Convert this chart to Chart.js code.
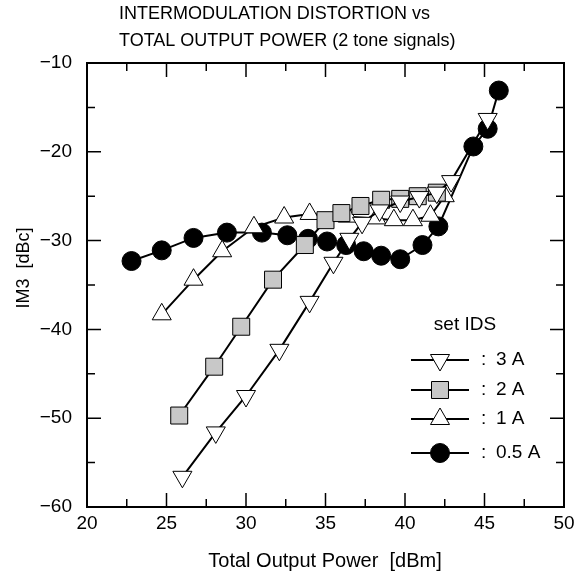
<!DOCTYPE html>
<html>
<head>
<meta charset="utf-8">
<script src="https://cdn.jsdelivr.net/npm/chart.js@4/dist/chart.umd.min.js"></script>
<style>
  html, body { margin: 0; padding: 0; background: #fff; }
  #wrap { width: 584px; height: 583px; }
</style>
</head>
<body>
<div id="wrap"><canvas id="imdChart" width="584" height="583"></canvas></div>
<script>
// data
const seriesLabels = [': 3 A', ': 2 A', ': 1 A', ': 0.5 A'];

const a3X = [26.0, 28.1, 30.0, 32.1, 34.0, 35.5, 36.5, 37.3, 38.4, 39.7, 40.9, 42.0, 42.9, 45.2];
const a3Y = [-56.6, -51.6, -47.5, -42.3, -36.9, -32.5, -29.8, -28.0, -26.6, -25.6, -25.1, -24.6, -23.3, -16.3];

const a2X = [25.8, 28.0, 29.7, 31.7, 33.7, 35.0, 36.0, 37.2, 38.5, 39.7, 40.8, 42.0];
const a2Y = [-49.7, -44.2, -39.7, -34.4, -30.5, -27.7, -26.9, -26.1, -25.4, -25.3, -25.0, -24.6];

const a1X = [24.7, 26.7, 28.5, 30.5, 32.4, 34.0, 36.4, 38.2, 39.3, 40.5, 41.6, 42.5];
const a1Y = [-38.3, -34.4, -31.2, -28.5, -27.4, -27.0, -27.3, -27.5, -27.7, -27.7, -27.2, -25.0];

const a05X = [22.8, 24.7, 26.7, 28.8, 31.0, 32.6, 33.9, 35.1, 36.3, 37.4, 38.5, 39.7, 41.1, 42.1, 44.3, 45.2, 45.9];
const a05Y = [-32.3, -31.1, -29.7, -29.1, -29.1, -29.4, -29.8, -30.1, -30.5, -31.2, -31.7, -32.1, -30.5, -28.4, -19.4, -17.4, -13.1];

const xTicks = [20, 25, 30, 35, 40, 45, 50];
const xMinorTicks = [22.5, 27.5, 32.5, 37.5, 42.5, 47.5];
const yTicks = [-60, -50, -40, -30, -20, -10];
const yMinorTicks = [-55, -45, -35, -25, -15];

const FONT = '"Liberation Sans", Arial, sans-serif';

function pts(xs, ys) {
    return xs.map((x, i) => ({ x: x, y: ys[i] }));
}

const markerStyles = [
    { pointStyle: 'triangle', rotation: 180, radius: 11, fill: '#ffffff' },
    { pointStyle: 'rect', rotation: 0, radius: 12, fill: '#c8c8c8' },
    { pointStyle: 'triangle', rotation: 0, radius: 11, fill: '#ffffff' },
    { pointStyle: 'circle', rotation: 0, radius: 9.5, fill: '#000000' }
];

const seriesData = [pts(a3X, a3Y), pts(a2X, a2Y), pts(a1X, a1Y), pts(a05X, a05Y)];

// draw order: 0.5A at the back, 3A on top
const datasets = seriesData.map((d, i) => ({
    label: seriesLabels[i],
    data: d,
    showLine: true,
    borderColor: '#000',
    borderWidth: 2,
    pointStyle: markerStyles[i].pointStyle,
    rotation: markerStyles[i].rotation,
    pointRadius: markerStyles[i].radius,
    pointBackgroundColor: markerStyles[i].fill,
    pointBorderColor: '#000',
    pointBorderWidth: 1,
    order: i
}));

// frame, inward ticks, titles and legend
const decorations = {
    id: 'decorations',
    afterDraw(chart) {
        const ctx = chart.ctx;
        const a = chart.chartArea;
        const xs = chart.scales.x, ys = chart.scales.y;
        ctx.save();
        ctx.strokeStyle = '#000';
        ctx.lineWidth = 1.5;
        ctx.beginPath();
        const tick = (v, len, axis) => {
            if (axis === 'x') {
                const p = xs.getPixelForValue(v);
                ctx.moveTo(p, a.bottom); ctx.lineTo(p, a.bottom - len);
                ctx.moveTo(p, a.top); ctx.lineTo(p, a.top + len);
            } else {
                const p = ys.getPixelForValue(v);
                ctx.moveTo(a.left, p); ctx.lineTo(a.left + len, p);
                ctx.moveTo(a.right, p); ctx.lineTo(a.right - len, p);
            }
        };
        xTicks.forEach(v => tick(v, 14, 'x'));
        xMinorTicks.forEach(v => tick(v, 8, 'x'));
        yTicks.forEach(v => tick(v, 14, 'y'));
        yMinorTicks.forEach(v => tick(v, 8, 'y'));
        ctx.stroke();
        ctx.lineWidth = 2;
        ctx.strokeRect(a.left, a.top, a.right - a.left, a.bottom - a.top);

        ctx.fillStyle = '#000';
        ctx.textBaseline = 'middle';
        ctx.textAlign = 'left';
        ctx.font = '18px ' + FONT;
        ctx.fillText('INTERMODULATION DISTORTION vs', 119, 14);
        ctx.fillText('TOTAL OUTPUT POWER (2 tone signals)', 119, 41);
        ctx.textAlign = 'center';
        ctx.font = '20px ' + FONT;
        ctx.fillText('Total Output Power  [dBm]', 325, 561);
        ctx.save();
        ctx.translate(24, 268);
        ctx.rotate(-Math.PI / 2);
        ctx.font = '18px ' + FONT;
        ctx.fillText('IM3  [dBc]', 0, 0);
        ctx.restore();

        // legend inside the plot
        ctx.font = '19px ' + FONT;
        ctx.fillText('set IDS', 465, 325);
        const rowsY = [360, 390, 419, 453];
        ctx.textAlign = 'left';
        seriesLabels.forEach((lab, i) => {
            const y = rowsY[i];
            ctx.strokeStyle = '#000';
            ctx.lineWidth = 2;
            ctx.beginPath();
            ctx.moveTo(411, y); ctx.lineTo(469, y);
            ctx.stroke();
            ctx.fillStyle = markerStyles[i].fill;
            ctx.lineWidth = 1;
            Chart.helpers.drawPoint(ctx, {
                pointStyle: markerStyles[i].pointStyle,
                rotation: markerStyles[i].rotation,
                radius: markerStyles[i].radius,
                borderWidth: 1
            }, 440, y);
            ctx.fillStyle = '#000';
            ctx.fillText(':', 481, y);
            ctx.fillText(lab.slice(2), 496, y);
        });
        ctx.restore();
    }
};

new Chart(document.getElementById('imdChart').getContext('2d'), {
    type: 'scatter',
    data: { datasets: datasets },
    plugins: [decorations],
    options: {
        responsive: false,
        animation: false,
        layout: { padding: { top: 63, right: 20, left: 0, bottom: 0 } },
        plugins: { legend: { display: false }, tooltip: { enabled: false } },
        elements: { line: { tension: 0 } },
        scales: {
            x: {
                type: 'linear', min: 20, max: 50,
                grid: { display: false, drawTicks: false },
                border: { display: false },
                afterBuildTicks: s => { s.ticks = xTicks.map(v => ({ value: v })); },
                afterFit: s => { s.height = 76; },
                ticks: { color: '#000', padding: 5, font: { family: FONT, size: 19 } }
            },
            y: {
                type: 'linear', min: -60, max: -10,
                grid: { display: false, drawTicks: false },
                border: { display: false },
                afterBuildTicks: s => { s.ticks = yTicks.map(v => ({ value: v })); },
                afterFit: s => { s.width = 87; },
                ticks: {
                    color: '#000', padding: 15, font: { family: FONT, size: 19 },
                    callback: v => String(v).replace('-', '\u2212')
                }
            }
        }
    }
});
</script>
</body>
</html>
